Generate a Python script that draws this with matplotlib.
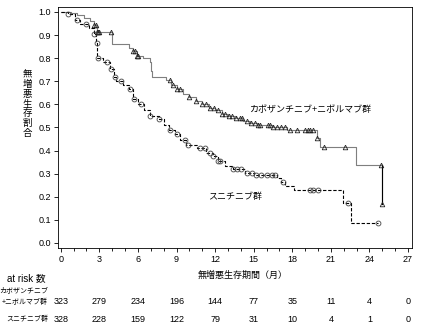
import numpy as np
import matplotlib
matplotlib.use("Agg")
import matplotlib.pyplot as plt
from matplotlib.ticker import MultipleLocator, FormatStrFormatter

plt.rcParams['font.family'] = ['Liberation Sans', 'Noto Sans CJK JP', 'DejaVu Sans']
plt.rcParams['font.size'] = 6.5

# ---- data ----
# cabozantinib + nivolumab : step times / survival after step
cabo_t = [0.0, 0.8, 1.3, 1.8, 2.3, 2.6, 2.8, 4.0, 5.3, 5.6, 5.9, 6.4, 6.9, 7.0, 7.1,
          8.2, 8.6, 9.0, 9.5, 10.0, 10.5, 11.0, 11.5, 12.0, 12.5, 13.0, 13.6, 14.2,
          14.7, 15.3, 16.5, 17.6, 19.9, 20.15, 22.95, 24.95]
cabo_s = [1.0, 0.995, 0.985, 0.975, 0.96, 0.945, 0.915, 0.86, 0.845, 0.83, 0.81, 0.80,
          0.785, 0.745, 0.72, 0.705, 0.685, 0.665, 0.645, 0.63, 0.615, 0.60, 0.585,
          0.575, 0.56, 0.55, 0.54, 0.53, 0.52, 0.51, 0.50, 0.49, 0.455, 0.417, 0.338, 0.17]
cabo_end = 24.97
cabo_cens = [2.6, 2.75, 2.85, 2.9, 3.0, 3.9, 5.6, 5.8, 5.9, 6.0, 8.5, 8.7, 9.0, 9.3,
             10.0, 10.5, 11.0, 11.3, 11.6, 11.9, 12.2, 12.5, 12.8, 13.1, 13.3, 13.6,
             13.9, 14.1, 14.45, 14.8, 15.1, 15.3, 15.5, 16.1, 16.3, 16.5, 16.8, 17.1,
             17.4, 17.8, 18.4, 19.0, 19.2, 19.4, 19.6, 19.95, 20.47, 22.1, 24.88, 24.97]

# sunitinib
suni_t = [0.0, 0.6, 1.1, 1.5, 2.2, 2.6, 2.75, 2.85, 3.3, 3.8, 4.1, 4.3, 4.8, 5.3, 5.6,
          6.0, 6.5, 6.9, 7.6, 8.0, 8.4, 8.9, 9.3, 9.7, 10.6, 11.3, 11.8, 12.2, 12.8,
          13.4, 14.3, 15.0, 16.8, 17.1, 17.4, 18.1, 21.97, 22.6]
suni_s = [1.0, 0.99, 0.965, 0.95, 0.93, 0.905, 0.865, 0.80, 0.785, 0.755, 0.72, 0.70,
          0.685, 0.665, 0.625, 0.60, 0.575, 0.55, 0.535, 0.51, 0.49, 0.47, 0.445,
          0.425, 0.41, 0.39, 0.375, 0.355, 0.335, 0.32, 0.305, 0.295, 0.28, 0.265,
          0.245, 0.229, 0.172, 0.085]
suni_end = 24.7
suni_cens = [0.6, 1.3, 2.0, 2.6, 2.8, 2.9, 3.6, 3.9, 4.2, 4.7, 5.4, 5.7, 6.2, 6.9, 7.6,
             8.5, 9.0, 9.65, 9.9, 10.8, 11.2, 11.6, 11.85, 12.25, 12.4, 13.4, 13.7,
             14.05, 14.45, 14.85, 15.2, 15.6, 16.0, 16.4, 16.65, 17.3, 19.4, 19.6,
             20.0, 22.35, 24.7]

xticks = [0, 3, 6, 9, 12, 15, 18, 21, 24, 27]
risk_cabo = [323, 279, 234, 196, 144, 77, 35, 11, 4, 0]
risk_suni = [328, 228, 159, 122, 79, 31, 10, 4, 1, 0]


def surv_at(t, times, surv):
    idx = np.searchsorted(times, t, side='right') - 1
    return np.array(surv)[idx]


fig = plt.figure(figsize=(4.22, 3.29), dpi=100)
ax = fig.add_axes([0.137, 0.246, 0.839, 0.733])

# cabo + nivo
ct = list(cabo_t) + [cabo_end]
cs = list(cabo_s) + [cabo_s[-1]]
ax.plot(ct, cs, drawstyle='steps-post', color='#7f7f7f', lw=0.8)
ax.plot([cabo_t[-1], cabo_t[-1]], [cabo_s[-2], cabo_s[-1]], color='black', lw=0.8)
ax.plot(cabo_cens, surv_at(cabo_cens, cabo_t, cabo_s), ls='none', marker='^',
        ms=3.3, mfc='none', mec='#222222', mew=0.6)

# sunitinib
st = list(suni_t) + [suni_end]
ss = list(suni_s) + [suni_s[-1]]
ax.plot(st, ss, drawstyle='steps-post', color='black', lw=0.8, dashes=(3, 1.6))
ax.plot(suni_cens, surv_at(suni_cens, suni_t, suni_s), ls='none', marker='o',
        ms=3.5, mfc='none', mec='#444444', mew=0.6)

ax.set_xlim(-0.23, 27.3)
ax.set_ylim(-0.022, 1.022)
ax.set_xticks(xticks)
ax.xaxis.set_minor_locator(MultipleLocator(1))
ax.yaxis.set_major_locator(MultipleLocator(0.1))
ax.yaxis.set_major_formatter(FormatStrFormatter('%.1f'))
ax.tick_params(which='both', direction='out', length=3, width=0.6, labelsize=6.5, pad=2)
ax.tick_params(which='minor', length=2.5)
for sp in ax.spines.values():
    sp.set_linewidth(0.6)

ax.text(14.6, 0.576, 'カボザンチニブ+ニボルマブ群', fontsize=6.5, va='center', ha='left')
ax.text(11.45, 0.203, 'スニチニブ群', fontsize=6.5, va='center', ha='left')

# axis labels
fig.text(27 / 422, 1 - 104 / 329, '\n'.join('無増悪生存割合'), fontsize=6.8,
         ha='center', va='center', linespacing=1.1)
fig.text(243 / 422, 1 - 275 / 329, '無増悪生存期間（月）', fontsize=6.5,
         ha='center', va='center')

# at-risk table
trans = ax.get_xaxis_transform()
fig.text(7 / 422, 1 - 278 / 329, 'at risk 数', fontsize=7, ha='left', va='center')
fig.text(48 / 422, 1 - 291 / 329, 'カボザンチニブ', fontsize=5, ha='right', va='center')
fig.text(48 / 422, 1 - 302 / 329, '+ニボルマブ群', fontsize=5, ha='right', va='center')
fig.text(48 / 422, 1 - 319 / 329, 'スニチニブ群', fontsize=5, ha='right', va='center')
for xv, a, b in zip(xticks, risk_cabo, risk_suni):
    ax.text(xv, (1 - 302 / 329 - 0.246) / 0.733, str(a), transform=trans,
            ha='center', va='center', fontsize=6.5, clip_on=False)
    ax.text(xv, (1 - 319 / 329 - 0.246) / 0.733, str(b), transform=trans,
            ha='center', va='center', fontsize=6.5, clip_on=False)

fig.savefig('out.png', dpi=100)
